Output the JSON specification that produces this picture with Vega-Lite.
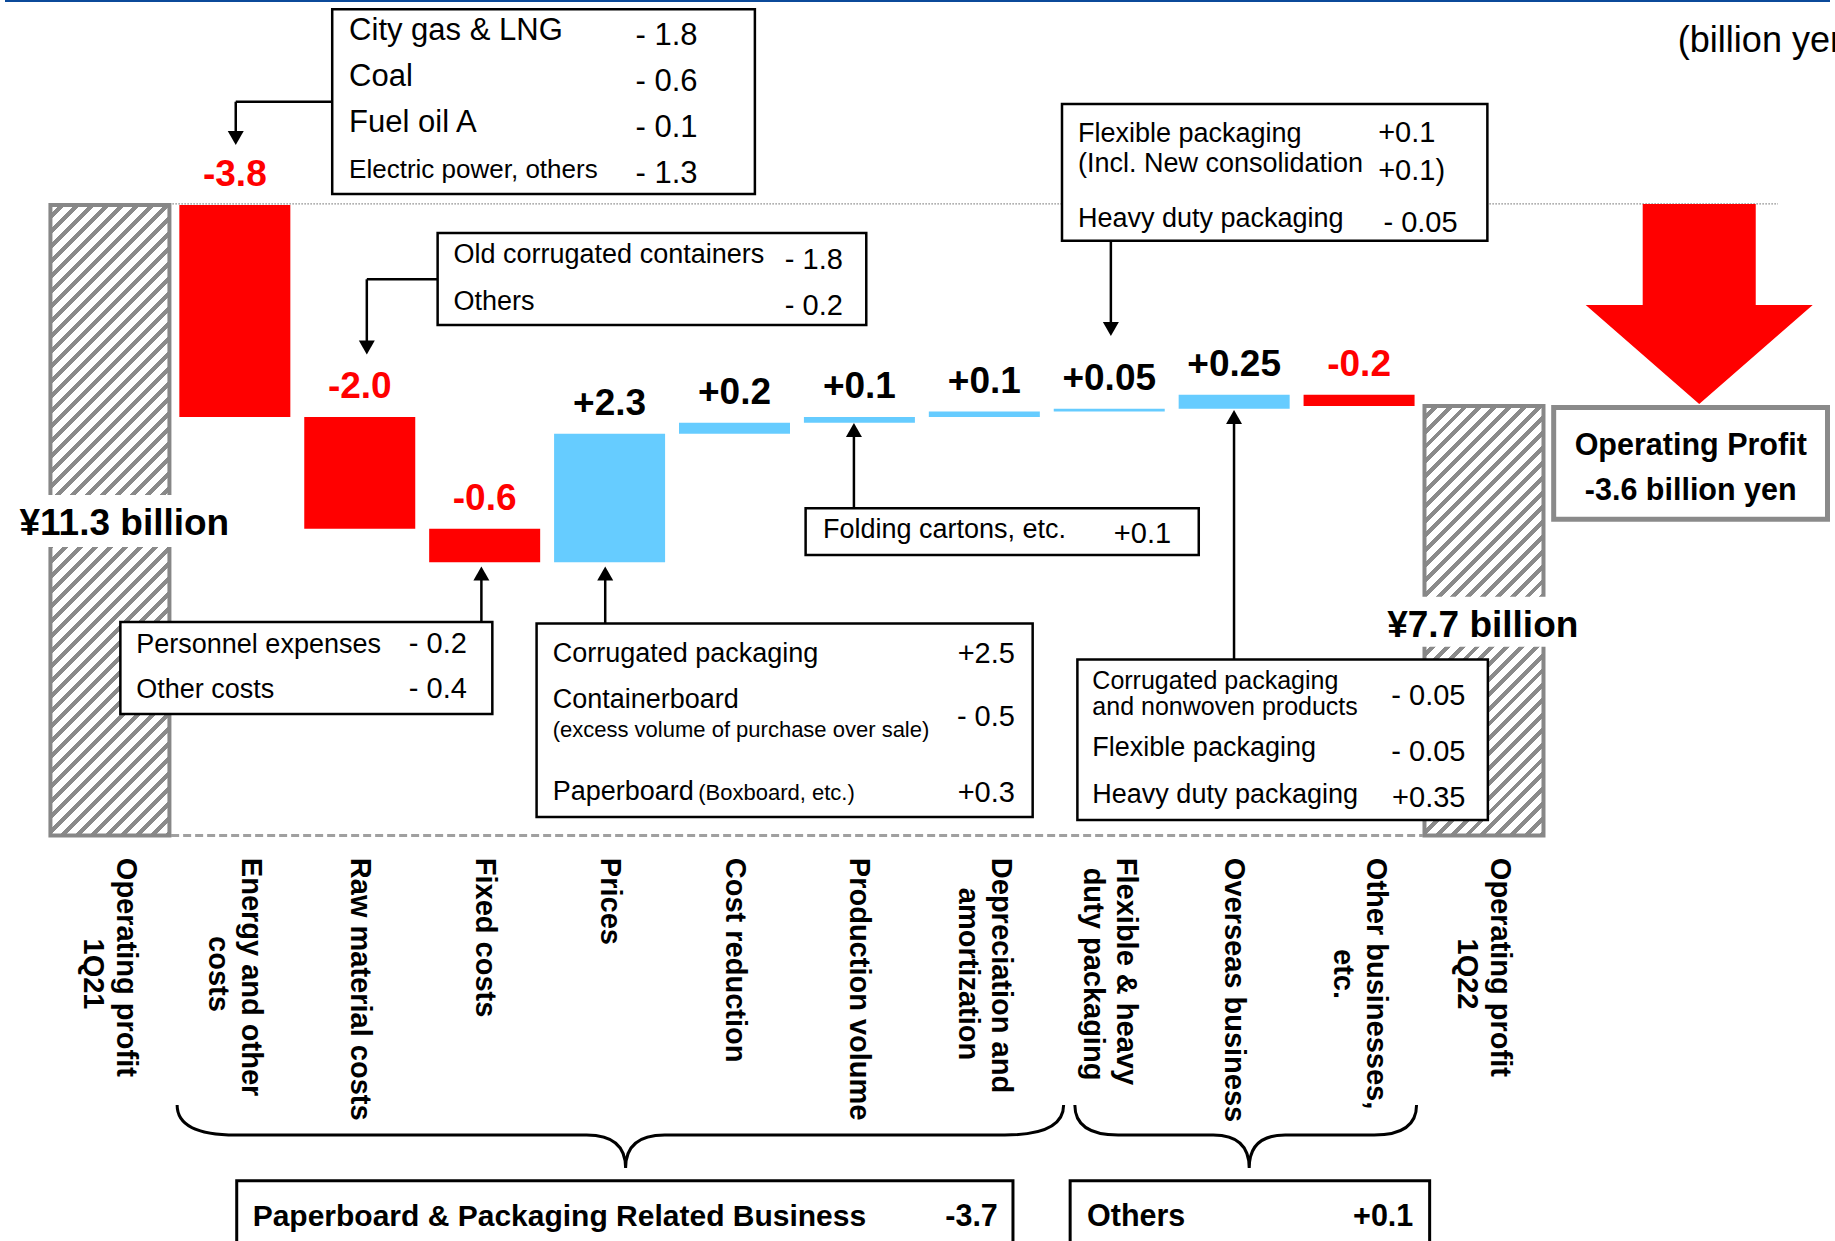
{
"$schema": "https://vega.github.io/schema/vega-lite/v6.json",
"width": 1835, "height": 1241,
"autosize": {"type": "none"},
"padding": 0,
"background": "white",
"config": {"view": {"stroke": null}, "axis": {"disable": true}},
"data": {"values": [{}]},
"datasets": {
"bars": [
{"i":0,"start":0,"end":11.3,"kind":"total","label":"","l1":"Operating profit","l2":"1Q21"},
{"i":1,"start":11.3,"end":7.5,"kind":"neg","label":"-3.8","l1":"Energy and other","l2":"costs"},
{"i":2,"start":7.5,"end":5.5,"kind":"neg","label":"-2.0","l1":"Raw material costs","l2":""},
{"i":3,"start":5.5,"end":4.9,"kind":"neg","label":"-0.6","l1":"Fixed costs","l2":""},
{"i":4,"start":4.9,"end":7.2,"kind":"pos","label":"+2.3","l1":"Prices","l2":""},
{"i":5,"start":7.2,"end":7.4,"kind":"pos","label":"+0.2","l1":"Cost reduction","l2":""},
{"i":6,"start":7.4,"end":7.5,"kind":"pos","label":"+0.1","l1":"Production volume","l2":""},
{"i":7,"start":7.5,"end":7.6,"kind":"pos","label":"+0.1","l1":"Depreciation and","l2":"amortization"},
{"i":8,"start":7.6,"end":7.65,"kind":"pos","label":"+0.05","l1":"Flexible & heavy","l2":"duty packaging"},
{"i":9,"start":7.65,"end":7.9,"kind":"pos","label":"+0.25","l1":"Overseas business","l2":""},
{"i":10,"start":7.9,"end":7.7,"kind":"neg","label":"-0.2","l1":"Other businesses,","l2":"etc."},
{"i":11,"start":0,"end":7.7,"kind":"total","label":"","l1":"Operating profit","l2":"1Q22"}
]
},
"layer": [
{"mark":{"type":"rect","color":"#0b4a9a"},"encoding":{"x":{"datum":-0.84},"x2":{"datum":13.77},"y":{"datum":14.975},"y2":{"datum":14.94}}},
{"mark":{"type":"rule","color":"#888888","strokeWidth":1.3,"strokeDash":[1.5,1.5]},"encoding":{"x":{"datum":0.5},"x2":{"datum":13.354},"y":{"datum":11.32}}},
{"mark":{"type":"rule","color":"#a0a0a0","strokeWidth":3,"strokeDash":[8,4]},"encoding":{"x":{"datum":0.49},"x2":{"datum":10.51},"y":{"datum":0}}},
{"data":{"name":"bars"},"transform":[{"filter":"datum.kind != 'total'"}],
 "mark":{"type":"bar","width":111},
 "encoding":{
  "x":{"field":"i","type":"quantitative","scale":{"domain":[-0.84,13.77],"nice":false,"zero":false},"axis":null},
  "y":{"field":"start","type":"quantitative","scale":{"domain":[-7.265,14.975],"nice":false,"zero":false},"axis":null},
  "y2":{"field":"end"},
  "color":{"field":"kind","type":"nominal","scale":{"domain":["neg","pos"],"range":["#ff0000","#66ccff"]},"legend":null}
 }},
{"data":{"name":"bars"},"transform":[{"filter":"datum.i == 0"}],
 "mark":{"type":"bar","width":119,"stroke":"#878787","strokeWidth":4,
  "fill":{"gradient":"linear","x1":0,"y1":0,"x2":0.21664,"y2":1.14783,"stops":[
{"offset":0,"color":"#fff"},{"offset":0.012,"color":"#fff"},{"offset":0.012,"color":"#8a8a8a"},{"offset":0.02,"color":"#8a8a8a"},
{"offset":0.02,"color":"#fff"},{"offset":0.032,"color":"#fff"},{"offset":0.032,"color":"#8a8a8a"},{"offset":0.04,"color":"#8a8a8a"},
{"offset":0.04,"color":"#fff"},{"offset":0.052,"color":"#fff"},{"offset":0.052,"color":"#8a8a8a"},{"offset":0.06,"color":"#8a8a8a"},
{"offset":0.06,"color":"#fff"},{"offset":0.072,"color":"#fff"},{"offset":0.072,"color":"#8a8a8a"},{"offset":0.08,"color":"#8a8a8a"},
{"offset":0.08,"color":"#fff"},{"offset":0.092,"color":"#fff"},{"offset":0.092,"color":"#8a8a8a"},{"offset":0.1,"color":"#8a8a8a"},
{"offset":0.1,"color":"#fff"},{"offset":0.112,"color":"#fff"},{"offset":0.112,"color":"#8a8a8a"},{"offset":0.12,"color":"#8a8a8a"},
{"offset":0.12,"color":"#fff"},{"offset":0.132,"color":"#fff"},{"offset":0.132,"color":"#8a8a8a"},{"offset":0.14,"color":"#8a8a8a"},
{"offset":0.14,"color":"#fff"},{"offset":0.152,"color":"#fff"},{"offset":0.152,"color":"#8a8a8a"},{"offset":0.16,"color":"#8a8a8a"},
{"offset":0.16,"color":"#fff"},{"offset":0.172,"color":"#fff"},{"offset":0.172,"color":"#8a8a8a"},{"offset":0.18,"color":"#8a8a8a"},
{"offset":0.18,"color":"#fff"},{"offset":0.192,"color":"#fff"},{"offset":0.192,"color":"#8a8a8a"},{"offset":0.2,"color":"#8a8a8a"},
{"offset":0.2,"color":"#fff"},{"offset":0.212,"color":"#fff"},{"offset":0.212,"color":"#8a8a8a"},{"offset":0.22,"color":"#8a8a8a"},
{"offset":0.22,"color":"#fff"},{"offset":0.232,"color":"#fff"},{"offset":0.232,"color":"#8a8a8a"},{"offset":0.24,"color":"#8a8a8a"},
{"offset":0.24,"color":"#fff"},{"offset":0.252,"color":"#fff"},{"offset":0.252,"color":"#8a8a8a"},{"offset":0.26,"color":"#8a8a8a"},
{"offset":0.26,"color":"#fff"},{"offset":0.272,"color":"#fff"},{"offset":0.272,"color":"#8a8a8a"},{"offset":0.28,"color":"#8a8a8a"},
{"offset":0.28,"color":"#fff"},{"offset":0.292,"color":"#fff"},{"offset":0.292,"color":"#8a8a8a"},{"offset":0.3,"color":"#8a8a8a"},
{"offset":0.3,"color":"#fff"},{"offset":0.312,"color":"#fff"},{"offset":0.312,"color":"#8a8a8a"},{"offset":0.32,"color":"#8a8a8a"},
{"offset":0.32,"color":"#fff"},{"offset":0.332,"color":"#fff"},{"offset":0.332,"color":"#8a8a8a"},{"offset":0.34,"color":"#8a8a8a"},
{"offset":0.34,"color":"#fff"},{"offset":0.352,"color":"#fff"},{"offset":0.352,"color":"#8a8a8a"},{"offset":0.36,"color":"#8a8a8a"},
{"offset":0.36,"color":"#fff"},{"offset":0.372,"color":"#fff"},{"offset":0.372,"color":"#8a8a8a"},{"offset":0.38,"color":"#8a8a8a"},
{"offset":0.38,"color":"#fff"},{"offset":0.392,"color":"#fff"},{"offset":0.392,"color":"#8a8a8a"},{"offset":0.4,"color":"#8a8a8a"},
{"offset":0.4,"color":"#fff"},{"offset":0.412,"color":"#fff"},{"offset":0.412,"color":"#8a8a8a"},{"offset":0.42,"color":"#8a8a8a"},
{"offset":0.42,"color":"#fff"},{"offset":0.432,"color":"#fff"},{"offset":0.432,"color":"#8a8a8a"},{"offset":0.44,"color":"#8a8a8a"},
{"offset":0.44,"color":"#fff"},{"offset":0.452,"color":"#fff"},{"offset":0.452,"color":"#8a8a8a"},{"offset":0.46,"color":"#8a8a8a"},
{"offset":0.46,"color":"#fff"},{"offset":0.472,"color":"#fff"},{"offset":0.472,"color":"#8a8a8a"},{"offset":0.48,"color":"#8a8a8a"},
{"offset":0.48,"color":"#fff"},{"offset":0.492,"color":"#fff"},{"offset":0.492,"color":"#8a8a8a"},{"offset":0.5,"color":"#8a8a8a"},
{"offset":0.5,"color":"#fff"},{"offset":0.512,"color":"#fff"},{"offset":0.512,"color":"#8a8a8a"},{"offset":0.52,"color":"#8a8a8a"},
{"offset":0.52,"color":"#fff"},{"offset":0.532,"color":"#fff"},{"offset":0.532,"color":"#8a8a8a"},{"offset":0.54,"color":"#8a8a8a"},
{"offset":0.54,"color":"#fff"},{"offset":0.552,"color":"#fff"},{"offset":0.552,"color":"#8a8a8a"},{"offset":0.56,"color":"#8a8a8a"},
{"offset":0.56,"color":"#fff"},{"offset":0.572,"color":"#fff"},{"offset":0.572,"color":"#8a8a8a"},{"offset":0.58,"color":"#8a8a8a"},
{"offset":0.58,"color":"#fff"},{"offset":0.592,"color":"#fff"},{"offset":0.592,"color":"#8a8a8a"},{"offset":0.6,"color":"#8a8a8a"},
{"offset":0.6,"color":"#fff"},{"offset":0.612,"color":"#fff"},{"offset":0.612,"color":"#8a8a8a"},{"offset":0.62,"color":"#8a8a8a"},
{"offset":0.62,"color":"#fff"},{"offset":0.632,"color":"#fff"},{"offset":0.632,"color":"#8a8a8a"},{"offset":0.64,"color":"#8a8a8a"},
{"offset":0.64,"color":"#fff"},{"offset":0.652,"color":"#fff"},{"offset":0.652,"color":"#8a8a8a"},{"offset":0.66,"color":"#8a8a8a"},
{"offset":0.66,"color":"#fff"},{"offset":0.672,"color":"#fff"},{"offset":0.672,"color":"#8a8a8a"},{"offset":0.68,"color":"#8a8a8a"},
{"offset":0.68,"color":"#fff"},{"offset":0.692,"color":"#fff"},{"offset":0.692,"color":"#8a8a8a"},{"offset":0.7,"color":"#8a8a8a"},
{"offset":0.7,"color":"#fff"},{"offset":0.712,"color":"#fff"},{"offset":0.712,"color":"#8a8a8a"},{"offset":0.72,"color":"#8a8a8a"},
{"offset":0.72,"color":"#fff"},{"offset":0.732,"color":"#fff"},{"offset":0.732,"color":"#8a8a8a"},{"offset":0.74,"color":"#8a8a8a"},
{"offset":0.74,"color":"#fff"},{"offset":0.752,"color":"#fff"},{"offset":0.752,"color":"#8a8a8a"},{"offset":0.76,"color":"#8a8a8a"},
{"offset":0.76,"color":"#fff"},{"offset":0.772,"color":"#fff"},{"offset":0.772,"color":"#8a8a8a"},{"offset":0.78,"color":"#8a8a8a"},
{"offset":0.78,"color":"#fff"},{"offset":0.792,"color":"#fff"},{"offset":0.792,"color":"#8a8a8a"},{"offset":0.8,"color":"#8a8a8a"},
{"offset":0.8,"color":"#fff"},{"offset":0.812,"color":"#fff"},{"offset":0.812,"color":"#8a8a8a"},{"offset":0.82,"color":"#8a8a8a"},
{"offset":0.82,"color":"#fff"},{"offset":0.832,"color":"#fff"},{"offset":0.832,"color":"#8a8a8a"},{"offset":0.84,"color":"#8a8a8a"},
{"offset":0.84,"color":"#fff"},{"offset":0.852,"color":"#fff"},{"offset":0.852,"color":"#8a8a8a"},{"offset":0.86,"color":"#8a8a8a"},
{"offset":0.86,"color":"#fff"},{"offset":0.872,"color":"#fff"},{"offset":0.872,"color":"#8a8a8a"},{"offset":0.88,"color":"#8a8a8a"},
{"offset":0.88,"color":"#fff"},{"offset":0.892,"color":"#fff"},{"offset":0.892,"color":"#8a8a8a"},{"offset":0.9,"color":"#8a8a8a"},
{"offset":0.9,"color":"#fff"},{"offset":0.912,"color":"#fff"},{"offset":0.912,"color":"#8a8a8a"},{"offset":0.92,"color":"#8a8a8a"},
{"offset":0.92,"color":"#fff"},{"offset":0.932,"color":"#fff"},{"offset":0.932,"color":"#8a8a8a"},{"offset":0.94,"color":"#8a8a8a"},
{"offset":0.94,"color":"#fff"},{"offset":0.952,"color":"#fff"},{"offset":0.952,"color":"#8a8a8a"},{"offset":0.96,"color":"#8a8a8a"},
{"offset":0.96,"color":"#fff"},{"offset":0.972,"color":"#fff"},{"offset":0.972,"color":"#8a8a8a"},{"offset":0.98,"color":"#8a8a8a"},
{"offset":0.98,"color":"#fff"},{"offset":0.992,"color":"#fff"},{"offset":0.992,"color":"#8a8a8a"},{"offset":1,"color":"#8a8a8a"}
 ]}},
 "encoding":{"x":{"field":"i","type":"quantitative"},"y":{"field":"start","type":"quantitative"},"y2":{"field":"end"}}},
{"data":{"name":"bars"},"transform":[{"filter":"datum.i == 11"}],
 "mark":{"type":"bar","width":119,"stroke":"#878787","strokeWidth":4,
  "fill":{"gradient":"linear","x1":0,"y1":0,"x2":0.32844,"y2":1.18597,"stops":[
{"offset":0,"color":"#fff"},{"offset":0.0162,"color":"#fff"},{"offset":0.0162,"color":"#8a8a8a"},{"offset":0.027,"color":"#8a8a8a"},
{"offset":0.027,"color":"#fff"},{"offset":0.0432,"color":"#fff"},{"offset":0.0432,"color":"#8a8a8a"},{"offset":0.0541,"color":"#8a8a8a"},
{"offset":0.0541,"color":"#fff"},{"offset":0.0703,"color":"#fff"},{"offset":0.0703,"color":"#8a8a8a"},{"offset":0.0811,"color":"#8a8a8a"},
{"offset":0.0811,"color":"#fff"},{"offset":0.0973,"color":"#fff"},{"offset":0.0973,"color":"#8a8a8a"},{"offset":0.1081,"color":"#8a8a8a"},
{"offset":0.1081,"color":"#fff"},{"offset":0.1243,"color":"#fff"},{"offset":0.1243,"color":"#8a8a8a"},{"offset":0.1351,"color":"#8a8a8a"},
{"offset":0.1351,"color":"#fff"},{"offset":0.1514,"color":"#fff"},{"offset":0.1514,"color":"#8a8a8a"},{"offset":0.1622,"color":"#8a8a8a"},
{"offset":0.1622,"color":"#fff"},{"offset":0.1784,"color":"#fff"},{"offset":0.1784,"color":"#8a8a8a"},{"offset":0.1892,"color":"#8a8a8a"},
{"offset":0.1892,"color":"#fff"},{"offset":0.2054,"color":"#fff"},{"offset":0.2054,"color":"#8a8a8a"},{"offset":0.2162,"color":"#8a8a8a"},
{"offset":0.2162,"color":"#fff"},{"offset":0.2324,"color":"#fff"},{"offset":0.2324,"color":"#8a8a8a"},{"offset":0.2432,"color":"#8a8a8a"},
{"offset":0.2432,"color":"#fff"},{"offset":0.2595,"color":"#fff"},{"offset":0.2595,"color":"#8a8a8a"},{"offset":0.2703,"color":"#8a8a8a"},
{"offset":0.2703,"color":"#fff"},{"offset":0.2865,"color":"#fff"},{"offset":0.2865,"color":"#8a8a8a"},{"offset":0.2973,"color":"#8a8a8a"},
{"offset":0.2973,"color":"#fff"},{"offset":0.3135,"color":"#fff"},{"offset":0.3135,"color":"#8a8a8a"},{"offset":0.3243,"color":"#8a8a8a"},
{"offset":0.3243,"color":"#fff"},{"offset":0.3405,"color":"#fff"},{"offset":0.3405,"color":"#8a8a8a"},{"offset":0.3514,"color":"#8a8a8a"},
{"offset":0.3514,"color":"#fff"},{"offset":0.3676,"color":"#fff"},{"offset":0.3676,"color":"#8a8a8a"},{"offset":0.3784,"color":"#8a8a8a"},
{"offset":0.3784,"color":"#fff"},{"offset":0.3946,"color":"#fff"},{"offset":0.3946,"color":"#8a8a8a"},{"offset":0.4054,"color":"#8a8a8a"},
{"offset":0.4054,"color":"#fff"},{"offset":0.4216,"color":"#fff"},{"offset":0.4216,"color":"#8a8a8a"},{"offset":0.4324,"color":"#8a8a8a"},
{"offset":0.4324,"color":"#fff"},{"offset":0.4486,"color":"#fff"},{"offset":0.4486,"color":"#8a8a8a"},{"offset":0.4595,"color":"#8a8a8a"},
{"offset":0.4595,"color":"#fff"},{"offset":0.4757,"color":"#fff"},{"offset":0.4757,"color":"#8a8a8a"},{"offset":0.4865,"color":"#8a8a8a"},
{"offset":0.4865,"color":"#fff"},{"offset":0.5027,"color":"#fff"},{"offset":0.5027,"color":"#8a8a8a"},{"offset":0.5135,"color":"#8a8a8a"},
{"offset":0.5135,"color":"#fff"},{"offset":0.5297,"color":"#fff"},{"offset":0.5297,"color":"#8a8a8a"},{"offset":0.5405,"color":"#8a8a8a"},
{"offset":0.5405,"color":"#fff"},{"offset":0.5568,"color":"#fff"},{"offset":0.5568,"color":"#8a8a8a"},{"offset":0.5676,"color":"#8a8a8a"},
{"offset":0.5676,"color":"#fff"},{"offset":0.5838,"color":"#fff"},{"offset":0.5838,"color":"#8a8a8a"},{"offset":0.5946,"color":"#8a8a8a"},
{"offset":0.5946,"color":"#fff"},{"offset":0.6108,"color":"#fff"},{"offset":0.6108,"color":"#8a8a8a"},{"offset":0.6216,"color":"#8a8a8a"},
{"offset":0.6216,"color":"#fff"},{"offset":0.6378,"color":"#fff"},{"offset":0.6378,"color":"#8a8a8a"},{"offset":0.6486,"color":"#8a8a8a"},
{"offset":0.6486,"color":"#fff"},{"offset":0.6649,"color":"#fff"},{"offset":0.6649,"color":"#8a8a8a"},{"offset":0.6757,"color":"#8a8a8a"},
{"offset":0.6757,"color":"#fff"},{"offset":0.6919,"color":"#fff"},{"offset":0.6919,"color":"#8a8a8a"},{"offset":0.7027,"color":"#8a8a8a"},
{"offset":0.7027,"color":"#fff"},{"offset":0.7189,"color":"#fff"},{"offset":0.7189,"color":"#8a8a8a"},{"offset":0.7297,"color":"#8a8a8a"},
{"offset":0.7297,"color":"#fff"},{"offset":0.7459,"color":"#fff"},{"offset":0.7459,"color":"#8a8a8a"},{"offset":0.7568,"color":"#8a8a8a"},
{"offset":0.7568,"color":"#fff"},{"offset":0.773,"color":"#fff"},{"offset":0.773,"color":"#8a8a8a"},{"offset":0.7838,"color":"#8a8a8a"},
{"offset":0.7838,"color":"#fff"},{"offset":0.8,"color":"#fff"},{"offset":0.8,"color":"#8a8a8a"},{"offset":0.8108,"color":"#8a8a8a"},
{"offset":0.8108,"color":"#fff"},{"offset":0.827,"color":"#fff"},{"offset":0.827,"color":"#8a8a8a"},{"offset":0.8378,"color":"#8a8a8a"},
{"offset":0.8378,"color":"#fff"},{"offset":0.8541,"color":"#fff"},{"offset":0.8541,"color":"#8a8a8a"},{"offset":0.8649,"color":"#8a8a8a"},
{"offset":0.8649,"color":"#fff"},{"offset":0.8811,"color":"#fff"},{"offset":0.8811,"color":"#8a8a8a"},{"offset":0.8919,"color":"#8a8a8a"},
{"offset":0.8919,"color":"#fff"},{"offset":0.9081,"color":"#fff"},{"offset":0.9081,"color":"#8a8a8a"},{"offset":0.9189,"color":"#8a8a8a"},
{"offset":0.9189,"color":"#fff"},{"offset":0.9351,"color":"#fff"},{"offset":0.9351,"color":"#8a8a8a"},{"offset":0.9459,"color":"#8a8a8a"},
{"offset":0.9459,"color":"#fff"},{"offset":0.9622,"color":"#fff"},{"offset":0.9622,"color":"#8a8a8a"},{"offset":0.973,"color":"#8a8a8a"},
{"offset":0.973,"color":"#fff"},{"offset":0.9892,"color":"#fff"},{"offset":0.9892,"color":"#8a8a8a"},{"offset":1,"color":"#8a8a8a"}
 ]}},
 "encoding":{"x":{"field":"i","type":"quantitative"},"y":{"field":"start","type":"quantitative"},"y2":{"field":"end"}}},
{"mark":{"type":"rect","color":"white"},"encoding":{"x":{"datum":-0.5},"x2":{"datum":0.5},"y":{"datum":6.104},"y2":{"datum":5.172}}},
{"mark":{"type":"rect","color":"white"},"encoding":{"x":{"datum":10.5},"x2":{"datum":11.5},"y":{"datum":4.281},"y2":{"datum":3.385}}},
{"mark":{"type":"text","text":"¥11.3 billion","font":"Liberation Sans","fontSize":37,"fontWeight":"bold","align":"center","baseline":"alphabetic","color":"black"},"encoding":{"x":{"datum":0.1154},"y":{"datum":5.387}}},
{"mark":{"type":"text","text":"¥7.7 billion","font":"Liberation Sans","fontSize":37,"fontWeight":"bold","align":"center","baseline":"alphabetic","color":"black"},"encoding":{"x":{"datum":10.99},"y":{"datum":3.565}}},
{"data":{"name":"bars"},"transform":[{"filter":"datum.kind == 'pos'"}],
 "mark":{"type":"text","font":"Liberation Sans","fontSize":37,"fontWeight":"bold","align":"center","baseline":"alphabetic","dy":-19,"color":"black"},
 "encoding":{"x":{"field":"i","type":"quantitative"},"y":{"field":"end","type":"quantitative"},"text":{"field":"label"}}},
{"data":{"name":"bars"},"transform":[{"filter":"datum.kind == 'neg'"}],
 "mark":{"type":"text","font":"Liberation Sans","fontSize":37,"fontWeight":"bold","align":"center","baseline":"alphabetic","dy":-19,"color":"#ff0000"},
 "encoding":{"x":{"field":"i","type":"quantitative"},"y":{"field":"start","type":"quantitative"},"text":{"field":"label"}}},
{"data":{"name":"bars"},"transform":[{"filter":"datum.l2 == ''"}],
 "mark":{"type":"text","angle":90,"align":"left","baseline":"middle","font":"Liberation Sans","fontSize":29,"fontWeight":"bold","color":"black"},
 "encoding":{"x":{"field":"i","type":"quantitative"},"y":{"datum":-0.398},"text":{"field":"l1"}}},
{"data":{"name":"bars"},"transform":[{"filter":"datum.l2 != ''"}],
 "mark":{"type":"text","angle":90,"align":"left","baseline":"middle","dy":-16.5,"font":"Liberation Sans","fontSize":29,"fontWeight":"bold","color":"black"},
 "encoding":{"x":{"field":"i","type":"quantitative"},"y":{"datum":-0.398},"text":{"field":"l1"}}},
{"data":{"name":"bars"},"transform":[{"filter":"datum.l2 != ''"}],
 "mark":{"type":"text","angle":90,"align":"center","baseline":"middle","dy":16.5,"font":"Liberation Sans","fontSize":29,"fontWeight":"bold","color":"black"},
 "encoding":{"x":{"field":"i","type":"quantitative"},"y":{"datum":-2.48},"text":{"field":"l2"}}},

{"mark":{"type":"rule","color":"black","strokeWidth":2.5},"encoding":{"x":{"datum":1.7795},"x2":{"datum":1.0072},"y":{"datum":13.152}}},
{"mark":{"type":"rule","color":"black","strokeWidth":2.5},"encoding":{"x":{"datum":1.0072},"y":{"datum":13.152},"y2":{"datum":12.55}}},
{"mark":{"type":"rule","color":"black","strokeWidth":2.5},"encoding":{"x":{"datum":2.6234},"x2":{"datum":2.0565},"y":{"datum":9.970}}},
{"mark":{"type":"rule","color":"black","strokeWidth":2.5},"encoding":{"x":{"datum":2.0565},"y":{"datum":9.970},"y2":{"datum":8.8}}},
{"mark":{"type":"rule","color":"black","strokeWidth":2.5},"encoding":{"x":{"datum":2.9737},"y":{"datum":3.83},"y2":{"datum":4.65}}},
{"mark":{"type":"rule","color":"black","strokeWidth":2.5},"encoding":{"x":{"datum":3.965},"y":{"datum":3.80},"y2":{"datum":4.65}}},
{"mark":{"type":"rule","color":"black","strokeWidth":2.5},"encoding":{"x":{"datum":5.956},"y":{"datum":5.866},"y2":{"datum":7.22}}},
{"mark":{"type":"rule","color":"black","strokeWidth":2.5},"encoding":{"x":{"datum":8.013},"y":{"datum":10.661},"y2":{"datum":9.13}}},
{"mark":{"type":"rule","color":"black","strokeWidth":2.5},"encoding":{"x":{"datum":8.999},"y":{"datum":3.156},"y2":{"datum":7.45}}},

{"mark":{"type":"point","shape":"M -1 -0.875 L 1 -0.875 L 0 0.875 Z","size":256,"filled":true,"color":"black","opacity":1},"encoding":{"x":{"datum":1.0072},"y":{"datum":12.5}}},
{"mark":{"type":"point","shape":"M -1 -0.875 L 1 -0.875 L 0 0.875 Z","size":256,"filled":true,"color":"black","opacity":1},"encoding":{"x":{"datum":2.0565},"y":{"datum":8.747}}},
{"mark":{"type":"point","shape":"M -1 0.875 L 1 0.875 L 0 -0.875 Z","size":256,"filled":true,"color":"black","opacity":1},"encoding":{"x":{"datum":2.9737},"y":{"datum":4.697}}},
{"mark":{"type":"point","shape":"M -1 0.875 L 1 0.875 L 0 -0.875 Z","size":256,"filled":true,"color":"black","opacity":1},"encoding":{"x":{"datum":3.965},"y":{"datum":4.697}}},
{"mark":{"type":"point","shape":"M -1 0.875 L 1 0.875 L 0 -0.875 Z","size":256,"filled":true,"color":"black","opacity":1},"encoding":{"x":{"datum":5.956},"y":{"datum":7.269}}},
{"mark":{"type":"point","shape":"M -1 -0.875 L 1 -0.875 L 0 0.875 Z","size":256,"filled":true,"color":"black","opacity":1},"encoding":{"x":{"datum":8.013},"y":{"datum":9.079}}},
{"mark":{"type":"point","shape":"M -1 0.875 L 1 0.875 L 0 -0.875 Z","size":256,"filled":true,"color":"black","opacity":1},"encoding":{"x":{"datum":8.999},"y":{"datum":7.502}}},

{"mark":{"type":"rect","fill":"white","stroke":"black","strokeWidth":2.5},"encoding":{"x":{"datum":1.7795},"x2":{"datum":5.1632},"y":{"datum":14.808},"y2":{"datum":11.498}}},
{"mark":{"type":"rect","fill":"white","stroke":"black","strokeWidth":2.5},"encoding":{"x":{"datum":2.6234},"x2":{"datum":6.0549},"y":{"datum":10.799},"y2":{"datum":9.151}}},
{"mark":{"type":"rect","fill":"white","stroke":"black","strokeWidth":2.5},"encoding":{"x":{"datum":0.0836},"x2":{"datum":3.0613},"y":{"datum":3.828},"y2":{"datum":2.179}}},
{"mark":{"type":"rect","fill":"white","stroke":"black","strokeWidth":2.5},"encoding":{"x":{"datum":3.4156},"x2":{"datum":7.3869},"y":{"datum":3.801},"y2":{"datum":0.333}}},
{"mark":{"type":"rect","fill":"white","stroke":"black","strokeWidth":2.5},"encoding":{"x":{"datum":5.5693},"x2":{"datum":8.7166},"y":{"datum":5.866},"y2":{"datum":5.029}}},
{"mark":{"type":"rect","fill":"white","stroke":"black","strokeWidth":2.5},"encoding":{"x":{"datum":7.6218},"x2":{"datum":11.0271},"y":{"datum":13.111},"y2":{"datum":10.661}}},
{"mark":{"type":"rect","fill":"white","stroke":"black","strokeWidth":2.5},"encoding":{"x":{"datum":7.745},"x2":{"datum":11.031},"y":{"datum":3.156},"y2":{"datum":0.28}}},

{"mark":{"type":"text","text":["City gas & LNG","Coal","Fuel oil A"],"lineHeight":46,"font":"Liberation Sans","fontSize":31,"align":"left","baseline":"alphabetic","color":"black"},"encoding":{"x":{"datum":1.9148},"y":{"datum":14.258}}},
{"mark":{"type":"text","text":"Electric power, others","font":"Liberation Sans","fontSize":26,"align":"left","baseline":"alphabetic","color":"black"},"encoding":{"x":{"datum":1.9148},"y":{"datum":11.794}}},
{"mark":{"type":"text","text":["- 1.8","- 0.6","- 0.1","- 1.3"],"lineHeight":46,"font":"Liberation Sans","fontSize":31,"align":"left","baseline":"alphabetic","color":"black"},"encoding":{"x":{"datum":4.2078},"y":{"datum":14.168}}},

{"mark":{"type":"text","text":["Old corrugated containers","Others"],"lineHeight":46.7,"font":"Liberation Sans","fontSize":27,"align":"left","baseline":"alphabetic","color":"black"},"encoding":{"x":{"datum":2.7508},"y":{"datum":10.256}}},
{"mark":{"type":"text","text":["- 1.8","- 0.2"],"lineHeight":46,"font":"Liberation Sans","fontSize":29,"align":"right","baseline":"alphabetic","color":"black"},"encoding":{"x":{"datum":5.8678},"y":{"datum":10.147}}},

{"mark":{"type":"text","text":["Personnel expenses","Other costs"],"lineHeight":44.5,"font":"Liberation Sans","fontSize":27,"align":"left","baseline":"alphabetic","color":"black"},"encoding":{"x":{"datum":0.211},"y":{"datum":3.272}}},
{"mark":{"type":"text","text":["- 0.2","- 0.4"],"lineHeight":44.5,"font":"Liberation Sans","fontSize":29,"align":"right","baseline":"alphabetic","color":"black"},"encoding":{"x":{"datum":2.8575},"y":{"datum":3.272}}},

{"mark":{"type":"text","text":["Corrugated packaging","Containerboard"],"lineHeight":46.6,"font":"Liberation Sans","fontSize":27,"align":"left","baseline":"alphabetic","color":"black"},"encoding":{"x":{"datum":3.5446},"y":{"datum":3.116}}},
{"mark":{"type":"text","text":"(excess volume of purchase over sale)","font":"Liberation Sans","fontSize":22,"align":"left","baseline":"alphabetic","color":"black"},"encoding":{"x":{"datum":3.5446},"y":{"datum":1.772}}},
{"mark":{"type":"text","text":"Paperboard","font":"Liberation Sans","fontSize":27,"align":"left","baseline":"alphabetic","color":"black"},"encoding":{"x":{"datum":3.5446},"y":{"datum":0.638}}},
{"mark":{"type":"text","text":"(Boxboard, etc.)","font":"Liberation Sans","fontSize":22,"align":"left","baseline":"alphabetic","color":"black"},"encoding":{"x":{"datum":4.7094},"y":{"datum":0.638}}},
{"mark":{"type":"text","text":"+2.5","font":"Liberation Sans","fontSize":29,"align":"right","baseline":"alphabetic","color":"black"},"encoding":{"x":{"datum":7.245},"y":{"datum":3.088}}},
{"mark":{"type":"text","text":"- 0.5","font":"Liberation Sans","fontSize":29,"align":"right","baseline":"alphabetic","color":"black"},"encoding":{"x":{"datum":7.245},"y":{"datum":1.964}}},
{"mark":{"type":"text","text":"+0.3","font":"Liberation Sans","fontSize":29,"align":"right","baseline":"alphabetic","color":"black"},"encoding":{"x":{"datum":7.245},"y":{"datum":0.608}}},

{"mark":{"type":"text","text":"Folding cartons, etc.","font":"Liberation Sans","fontSize":27,"align":"left","baseline":"alphabetic","color":"black"},"encoding":{"x":{"datum":5.7078},"y":{"datum":5.328}}},
{"mark":{"type":"text","text":"+0.1","font":"Liberation Sans","fontSize":29,"align":"right","baseline":"alphabetic","color":"black"},"encoding":{"x":{"datum":8.4952},"y":{"datum":5.249}}},

{"mark":{"type":"text","text":["Flexible packaging","(Incl. New consolidation"],"lineHeight":30,"font":"Liberation Sans","fontSize":27,"align":"left","baseline":"alphabetic","color":"black"},"encoding":{"x":{"datum":7.7492},"y":{"datum":12.435}}},
{"mark":{"type":"text","text":"Heavy duty packaging","font":"Liberation Sans","fontSize":27,"align":"left","baseline":"alphabetic","color":"black"},"encoding":{"x":{"datum":7.7492},"y":{"datum":10.912}}},
{"mark":{"type":"text","text":"+0.1","font":"Liberation Sans","fontSize":29,"align":"left","baseline":"alphabetic","color":"black"},"encoding":{"x":{"datum":10.153},"y":{"datum":12.435}}},
{"mark":{"type":"text","text":"+0.1)","font":"Liberation Sans","fontSize":29,"align":"left","baseline":"alphabetic","color":"black"},"encoding":{"x":{"datum":10.153},"y":{"datum":11.749}}},
{"mark":{"type":"text","text":"- 0.05","font":"Liberation Sans","fontSize":29,"align":"left","baseline":"alphabetic","color":"black"},"encoding":{"x":{"datum":10.195},"y":{"datum":10.824}}},

{"mark":{"type":"text","text":["Corrugated packaging","and nonwoven products"],"lineHeight":26.5,"font":"Liberation Sans","fontSize":25,"align":"left","baseline":"alphabetic","color":"black"},"encoding":{"x":{"datum":7.8646},"y":{"datum":2.636}}},
{"mark":{"type":"text","text":"Flexible packaging","font":"Liberation Sans","fontSize":27,"align":"left","baseline":"alphabetic","color":"black"},"encoding":{"x":{"datum":7.8646},"y":{"datum":1.427}}},
{"mark":{"type":"text","text":"Heavy duty packaging","font":"Liberation Sans","fontSize":27,"align":"left","baseline":"alphabetic","color":"black"},"encoding":{"x":{"datum":7.8646},"y":{"datum":0.593}}},
{"mark":{"type":"text","text":"- 0.05","font":"Liberation Sans","fontSize":29,"align":"right","baseline":"alphabetic","color":"black"},"encoding":{"x":{"datum":10.852},"y":{"datum":2.341}}},
{"mark":{"type":"text","text":"- 0.05","font":"Liberation Sans","fontSize":29,"align":"right","baseline":"alphabetic","color":"black"},"encoding":{"x":{"datum":10.852},"y":{"datum":1.337}}},
{"mark":{"type":"text","text":"+0.35","font":"Liberation Sans","fontSize":29,"align":"right","baseline":"alphabetic","color":"black"},"encoding":{"x":{"datum":10.852},"y":{"datum":0.504}}},

{"mark":{"type":"point","shape":"M -0.498 -0.881 L 0.498 -0.881 L 0.498 0.009 L 1 0.009 L 0 0.881 L -1 0.009 L -0.498 0.009 Z","size":51529,"filled":true,"color":"#ff0000","opacity":1},"encoding":{"x":{"datum":12.723},"y":{"datum":9.527}}},
{"mark":{"type":"rect","fill":"white","stroke":"#8a8a8a","strokeWidth":5},"encoding":{"x":{"datum":11.558},"x2":{"datum":13.75},"y":{"datum":7.672},"y2":{"datum":5.67}}},
{"mark":{"type":"text","text":["Operating Profit","-3.6 billion yen"],"lineHeight":45,"font":"Liberation Sans","fontSize":30.5,"fontWeight":"bold","align":"center","baseline":"alphabetic","color":"black"},"encoding":{"x":{"datum":12.655},"y":{"datum":6.821}}},

{"mark":{"type":"point","shape":"M -1 -0.0711 Q -1 -0.0034 -0.868 -0.0034 L -0.0761 -0.0034 Q 0.0118 -0.0034 0.0118 0.0711 Q 0.0118 -0.0034 0.0998 -0.0034 L 0.8673 -0.0034 Q 1 -0.0034 1 -0.0711","size":785882,"filled":false,"color":"black","strokeWidth":3,"opacity":1},"encoding":{"x":{"datum":4.0864},"y":{"datum":-5.392}}},
{"mark":{"type":"point","shape":"M -1 -0.1844 Q -1 -0.0088 -0.7463 -0.0088 L -0.1902 -0.0088 Q 0.0205 -0.0088 0.0205 0.1844 Q 0.0205 -0.0088 0.2312 -0.0088 L 0.7521 -0.0088 Q 1 -0.0088 1 -0.1844","size":116759,"filled":false,"color":"black","strokeWidth":3,"opacity":1},"encoding":{"x":{"datum":9.0924},"y":{"datum":-5.392}}},

{"mark":{"type":"rect","fill":"white","stroke":"black","strokeWidth":3},"encoding":{"x":{"datum":1.0151},"x2":{"datum":7.2293},"y":{"datum":-6.185},"y2":{"datum":-7.6}}},
{"mark":{"type":"rect","fill":"white","stroke":"black","strokeWidth":3},"encoding":{"x":{"datum":7.687},"x2":{"datum":10.565},"y":{"datum":-6.185},"y2":{"datum":-7.6}}},
{"mark":{"type":"text","text":"Paperboard & Packaging Related Business","font":"Liberation Sans","fontSize":30,"fontWeight":"bold","align":"left","baseline":"alphabetic","color":"black"},"encoding":{"x":{"datum":1.1425},"y":{"datum":-6.996}}},
{"mark":{"type":"text","text":"-3.7","font":"Liberation Sans","fontSize":30.5,"fontWeight":"bold","align":"right","baseline":"alphabetic","color":"black"},"encoding":{"x":{"datum":7.108},"y":{"datum":-6.996}}},
{"mark":{"type":"text","text":"Others","font":"Liberation Sans","fontSize":30.5,"fontWeight":"bold","align":"left","baseline":"alphabetic","color":"black"},"encoding":{"x":{"datum":7.822},"y":{"datum":-6.996}}},
{"mark":{"type":"text","text":"+0.1","font":"Liberation Sans","fontSize":30.5,"fontWeight":"bold","align":"right","baseline":"alphabetic","color":"black"},"encoding":{"x":{"datum":10.434},"y":{"datum":-6.996}}},

{"mark":{"type":"text","text":"(billion yen)","font":"Liberation Sans","fontSize":36,"align":"left","baseline":"alphabetic","color":"black"},"encoding":{"x":{"datum":12.552},"y":{"datum":14.048}}}
]
}
